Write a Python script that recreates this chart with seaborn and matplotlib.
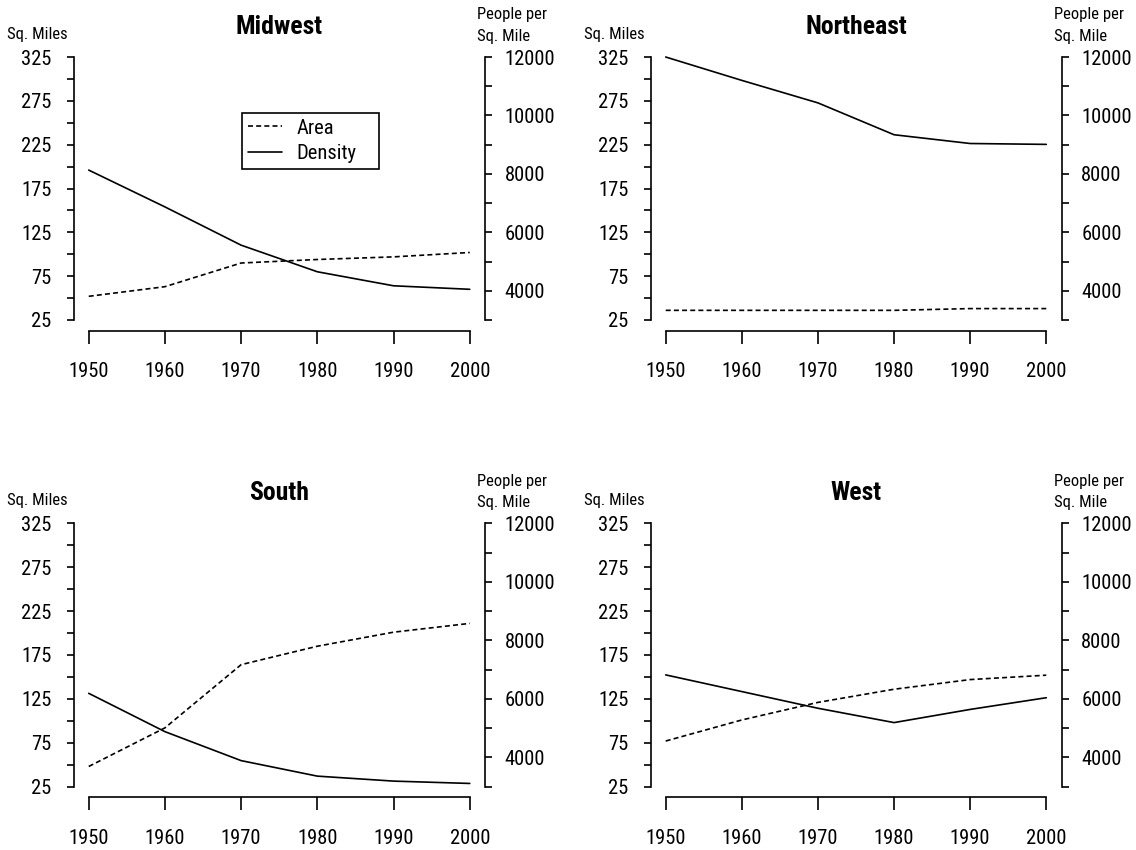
import matplotlib
matplotlib.use("Agg")
import os
import numpy as np
import pandas as pd
import seaborn as sns
import matplotlib.pyplot as plt
from matplotlib import font_manager
from matplotlib.font_manager import FontProperties
from matplotlib.ticker import FixedLocator

# ---------------- data ----------------
years = [1950, 1960, 1970, 1980, 1990, 2000]
regions = ["Midwest", "Northeast", "South", "West"]
midwest_area = [52, 63, 90, 94, 97, 102]
midwest_density = [8130, 6870, 5560, 4650, 4170, 4050]
northeast_area = [36, 36, 36, 36, 38, 38]
northeast_density = [12000, 11200, 10430, 9340, 9040, 9010]
south_area = [48, 92, 164, 185, 201, 211]
south_density = [6190, 4880, 3890, 3360, 3190, 3110]
west_area = [77, 101, 121, 136, 147, 152]
west_density = [6820, 6250, 5680, 5190, 5640, 6040]

area_ticks = [25, 75, 125, 175, 225, 275, 325]
area_minor = [50, 100, 150, 200, 250, 300]
dens_ticks = [4000, 6000, 8000, 10000, 12000]
dens_minor = [3000, 5000, 7000, 9000, 11000]
year_ticks = [1950, 1960, 1970, 1980, 1990, 2000]

area_by_region = {"Midwest": midwest_area, "Northeast": northeast_area,
                  "South": south_area, "West": west_area}
dens_by_region = {"Midwest": midwest_density, "Northeast": northeast_density,
                  "South": south_density, "West": west_density}

rows = []
for r in regions:
    for y, a, d in zip(years, area_by_region[r], dens_by_region[r]):
        rows.append({"region": r, "year": y, "area": a, "density": d})
df = pd.DataFrame(rows)

# ---------------- style ----------------
sns.set_style("white")
plt.rcParams["font.family"] = ["DejaVu Sans"]

files = {os.path.basename(f.fname): f.fname for f in font_manager.fontManager.ttflist}


def find_font(candidates):
    for c in candidates:
        if c in files:
            return files[c]
    return None


reg_path = find_font(["RobotoCondensed-Regular.ttf", "PT_Sans-Narrow-Web-Regular.ttf",
                      "DejaVuSansCondensed.ttf"])
bold_path = find_font(["RobotoCondensed-Bold.ttf", "PT_Sans-Narrow-Web-Bold.ttf",
                       "DejaVuSansCondensed-Bold.ttf"])


def fp(size, bold=False):
    path = bold_path if bold else reg_path
    if path:
        return FontProperties(fname=path, size=size)
    return FontProperties(family="DejaVu Sans", stretch="condensed",
                          weight="bold" if bold else "normal", size=size)


W, H = 1136, 850
fig = plt.figure(figsize=(W / 100, H / 100), dpi=100)
fig.patch.set_facecolor("white")

# panel rectangles in pixels: left, top, right, bottom
panels = {
    "Midwest": (73.5, 46.5, 485.0, 330.5),
    "Northeast": (650.5, 46.5, 1061.5, 330.5),
    "South": (73.5, 512.8, 485.0, 797.2),
    "West": (650.5, 512.8, 1061.5, 797.2),
}

LW = 1.2
TICK_FS = 14.8
dash = (0, (3, 1.9))


def fx(px):
    return px / W


def fy(py):
    return 1 - py / H


for r in regions:
    l, t, rr, b = panels[r]
    ax = fig.add_axes([fx(l), fy(b), (rr - l) / W, (b - t) / H])
    ax.set_facecolor("none")
    d = df[df["region"] == r]
    sns.lineplot(data=d, x="year", y="area", ax=ax, color="black",
                 linewidth=LW, linestyle=dash, errorbar=None)
    ax.set_xlim(1948, 2002)
    ax.set_ylim(13, 337)
    ax2 = ax.twinx()
    sns.lineplot(data=d, x="year", y="density", ax=ax2, color="black",
                 linewidth=LW, errorbar=None)
    ax2.set_ylim(2640, 12360)

    for a in (ax, ax2):
        a.set_xlabel("")
        a.set_ylabel("")
        for s in a.spines.values():
            s.set_linewidth(LW)
            s.set_color("black")
    ax.spines["top"].set_visible(False)
    ax.spines["right"].set_visible(False)
    ax.spines["left"].set_bounds(25, 325)
    ax.spines["bottom"].set_bounds(1950, 2000)
    for s in ("top", "left", "bottom"):
        ax2.spines[s].set_visible(False)
    ax2.spines["right"].set_bounds(3000, 12000)

    ax.xaxis.set_major_locator(FixedLocator(year_ticks))
    ax.set_xticklabels([str(y) for y in year_ticks])
    ax.yaxis.set_major_locator(FixedLocator(area_ticks))
    ax.yaxis.set_minor_locator(FixedLocator(area_minor))
    ax.set_yticklabels([str(v) for v in area_ticks])
    ax2.yaxis.set_major_locator(FixedLocator(dens_ticks))
    ax2.yaxis.set_minor_locator(FixedLocator(dens_minor))
    ax2.set_yticklabels([str(v) for v in dens_ticks])

    ax.tick_params(axis="x", which="major", direction="out", length=9.6,
                   width=LW, pad=13, colors="black", bottom=True)
    ax.tick_params(axis="y", which="both", direction="out", length=5.3,
                   width=LW, pad=10.5, colors="black", left=True)
    ax2.tick_params(axis="y", which="both", direction="out", length=5.3,
                    width=LW, pad=9, colors="black", right=True)
    for lab in ax.get_xticklabels() + ax.get_yticklabels() + ax2.get_yticklabels():
        lab.set_fontproperties(fp(TICK_FS))

    # titles and axis captions
    fig.text(fx((l + rr) / 2), fy(t - 19.5), r, ha="center", va="center",
             fontproperties=fp(18.5, bold=True), color="black")
    fig.text(fx(l - 36), fy(t - 12.2), "Sq. Miles", ha="center",
             va="center", fontproperties=fp(12), color="black")
    fig.text(fx(rr - 8), fy(t - 31.5), "People per", ha="left",
             va="center", fontproperties=fp(12), color="black")
    fig.text(fx(rr - 8), fy(t - 9.8), "Sq. Mile", ha="left",
             va="center", fontproperties=fp(12), color="black")

    if r == "Midwest":
        leg_l, leg_t, leg_w, leg_h = 241.7, 112.5, 137.6, 56.0
        leg = ax2.legend([ax.lines[0], ax2.lines[0]], ["Area", "Density"],
                         loc="upper left",
                         bbox_to_anchor=(fx(leg_l), fy(leg_t + leg_h),
                                         leg_w / W, leg_h / H),
                         bbox_transform=fig.transFigure, mode="expand",
                         borderaxespad=0, frameon=True, fancybox=False,
                         edgecolor="black", framealpha=1,
                         handlelength=1.65, handletextpad=0.72,
                         labelspacing=0.3, borderpad=0.3,
                         prop=fp(TICK_FS))
        leg.get_frame().set_linewidth(LW)
        for tx in leg.get_texts():
            tx.set_color("black")

fig.savefig("out.png", dpi=100, facecolor="white")
